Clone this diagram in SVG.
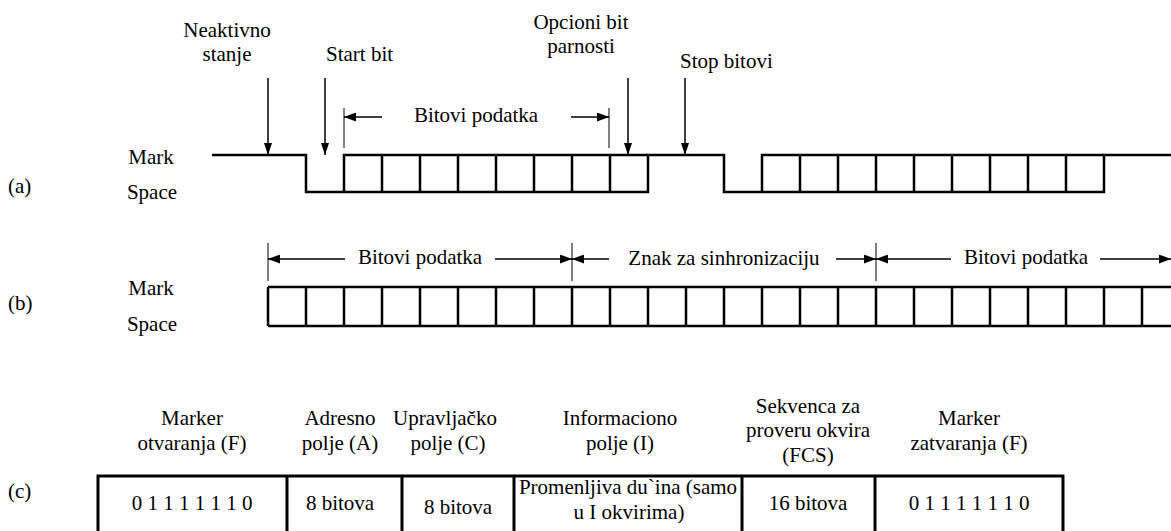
<svg xmlns="http://www.w3.org/2000/svg" width="1171" height="531" viewBox="0 0 1171 531">
  <style>
    text { font-family: 'Liberation Serif', 'Times New Roman', serif; font-size: 21px; fill: #000; }
    .m { text-anchor: middle; }
    .sig { fill: none; stroke: #000; stroke-width: 2.5; stroke-linejoin: miter; }
    .ptr { fill: none; stroke: #000; stroke-width: 1.5; marker-end: url(#ah); }
    .dim { fill: none; stroke: #000; stroke-width: 1.7; marker-end: url(#ahd); }
    .tick { fill: none; stroke: #000; stroke-width: 1; }
    .frame { fill: none; stroke: #000; stroke-width: 3; }
  </style>
  <defs>
    <!-- pointer head -->
    <marker id="ah" viewBox="0 0 12 8" refX="12" refY="4" markerWidth="12" markerHeight="8" markerUnits="userSpaceOnUse" orient="auto">
      <path d="M0,0 L12,4 L0,8 z" fill="#000"/>
    </marker>
    <!-- dimension head -->
    <marker id="ahd" viewBox="0 0 12 9" refX="12" refY="4.5" markerWidth="12" markerHeight="9" markerUnits="userSpaceOnUse" orient="auto">
      <path d="M0,0 L12,4.5 L0,9 z" fill="#000"/>
    </marker>
  </defs>
  <rect width="1171" height="531" fill="#fff"/>

  <!-- row labels -->
  <g id="row-a-labels">
    <text x="8" y="193">(a)</text>
    <text x="151" y="164" class="m">Mark</text>
    <text x="152" y="199" class="m">Space</text>
  </g>
  <g id="row-b-labels">
    <text x="8" y="310">(b)</text>
    <text x="151" y="295" class="m">Mark</text>
    <text x="152" y="331" class="m">Space</text>
  </g>
  <g id="row-c-label">
    <text x="8" y="498">(c)</text>
  </g>

  <!-- (a) callouts -->
  <g id="lbl-idle">
    <text x="227" y="37" class="m">Neaktivno</text>
    <text x="227" y="61" class="m">stanje</text>
  </g>
  <g id="lbl-start">
    <text x="326" y="61">Start bit</text>
  </g>
  <g id="lbl-parity">
    <text x="581" y="29" class="m">Opcioni bit</text>
    <text x="581" y="53" class="m">parnosti</text>
  </g>
  <g id="lbl-stop">
    <text x="680" y="68">Stop bitovi</text>
  </g>
  <g id="lbl-a-data">
    <text x="476" y="122" class="m">Bitovi podatka</text>
  </g>

  <!-- (a) asynchronous character: idle, start bit, data bits, parity, stop -->
  <g id="async-signal">
    <path class="sig" d="M212,155 H306 V192 H648 V155 H724 V192 H1104 V155 H1171"/>
    <path class="sig" d="M344,192 V155 H648 M762,192 V155 H1104"/>
    <path class="sig" d="M382,155 V192 M420,155 V192 M458,155 V192 M496,155 V192 M534,155 V192 M572,155 V192 M610,155 V192"/>
    <path class="sig" d="M800,155 V192 M838,155 V192 M876,155 V192 M914,155 V192 M952,155 V192 M990,155 V192 M1028,155 V192 M1066,155 V192"/>
  </g>

  <!-- (b) synchronous stream -->
  <g id="lbl-b-data1">
    <text x="420" y="264" class="m">Bitovi podatka</text>
  </g>
  <g id="lbl-b-sync">
    <text x="724" y="265" class="m">Znak za sinhronizaciju</text>
  </g>
  <g id="lbl-b-data2">
    <text x="1026" y="264" class="m">Bitovi podatka</text>
  </g>
  <g id="sync-signal">
    <path class="sig" d="M268,287 H1171 M268,326 H1171"/>
    <path class="sig" d="M268,287 V326 M306,287 V326 M344,287 V326 M382,287 V326 M420,287 V326 M458,287 V326 M496,287 V326 M534,287 V326 M572,287 V326 M610,287 V326 M648,287 V326 M686,287 V326 M724,287 V326 M762,287 V326 M800,287 V326 M838,287 V326 M876,287 V326 M914,287 V326 M952,287 V326 M990,287 V326 M1028,287 V326 M1066,287 V326 M1104,287 V326 M1142,287 V326"/>
  </g>

  <!-- pointers and dimension arrows -->
  <g id="connectors">
    <path class="ptr" d="M268,78 V155"/>
    <path class="ptr" d="M325,78 V155"/>
    <path class="ptr" d="M628,78 V155"/>
    <path class="ptr" d="M685,78 V155"/>

    <path class="tick" d="M344,108 V148 M609,108 V148"/>
    <path class="dim" d="M382,117 H344"/>
    <path class="dim" d="M571,117 H609"/>

    <path class="tick" d="M268,243 V281 M572,243 V281 M876,243 V281"/>
    <path class="dim" d="M345,259 H268"/>
    <path class="dim" d="M495,259 H572"/>
    <path class="dim" d="M609,259 H572"/>
    <path class="dim" d="M836,259 H876"/>
    <path class="dim" d="M951,259 H876"/>
    <path class="dim" d="M1100,259 H1171"/>
  </g>

  <!-- (c) HDLC frame -->
  <g id="hdlc-frame">
    <path class="frame" d="M98,540 V476 H1063 V540 M287,476 V540 M402,476 V540 M514,476 V540 M742,476 V540 M875,476 V540"/>
  </g>
  <g id="fld-flag-open">
    <text x="192" y="425" class="m">Marker</text>
    <text x="192" y="450" class="m">otvaranja (F)</text>
    <text x="192" y="510" class="m">0 1 1 1 1 1 1 0</text>
  </g>
  <g id="fld-address">
    <text x="340" y="425" class="m">Adresno</text>
    <text x="340" y="450" class="m">polje (A)</text>
    <text x="340" y="510" class="m">8 bitova</text>
  </g>
  <g id="fld-control">
    <text x="445" y="425" class="m">Upravljačko</text>
    <text x="448" y="450" class="m">polje (C)</text>
    <text x="458" y="514" class="m">8 bitova</text>
  </g>
  <g id="fld-info">
    <text x="620" y="425" class="m">Informaciono</text>
    <text x="620" y="450" class="m">polje (I)</text>
    <text x="628" y="494" class="m">Promenljiva du`ina (samo</text>
    <text x="629" y="519" class="m">u I okvirima)</text>
  </g>
  <g id="fld-fcs">
    <text x="808" y="413" class="m">Sekvenca za</text>
    <text x="808" y="437" class="m">proveru okvira</text>
    <text x="808" y="462" class="m">(FCS)</text>
    <text x="808" y="510" class="m">16 bitova</text>
  </g>
  <g id="fld-flag-close">
    <text x="969" y="425" class="m">Marker</text>
    <text x="969" y="450" class="m">zatvaranja (F)</text>
    <text x="969" y="510" class="m">0 1 1 1 1 1 1 0</text>
  </g>
</svg>
